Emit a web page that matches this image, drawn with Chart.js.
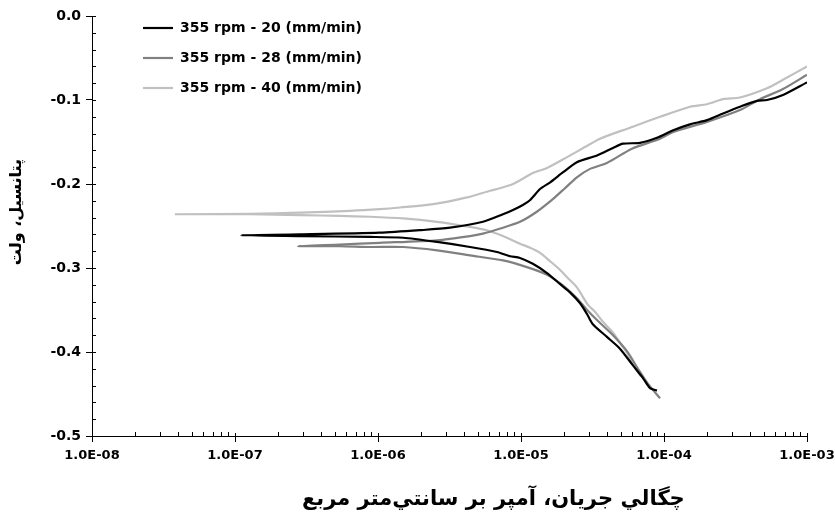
<!DOCTYPE html>
<html>
<head>
<meta charset="utf-8">
<script src="https://cdn.jsdelivr.net/npm/chart.js@4.4.1/dist/chart.umd.min.js"></script>
<style>
  html, body { margin: 0; padding: 0; background: #ffffff; }
  canvas { display: block; }
</style>
</head>
<body>
<canvas id="c" width="835" height="515"></canvas>
<script>
// ---- data ----
const seriesLabels = ['355 rpm - 20 (mm/min)', '355 rpm - 28 (mm/min)', '355 rpm - 40 (mm/min)'];
const seriesColors = ['#000000', '#808080', '#c0c0c0'];

const xTickValues = [1e-8, 1e-7, 1e-6, 1e-5, 1e-4, 1e-3];
const xTickLabels = ['1.0E-08', '1.0E-07', '1.0E-06', '1.0E-05', '1.0E-04', '1.0E-03'];
const yTickValues = [-0.5, -0.4, -0.3, -0.2, -0.1, 0];
const yTickLabels = ['-0.5', '-0.4', '-0.3', '-0.2', '-0.1', '0.0'];

// leading spaces only nudge the centred titles to where they sit in the original
const xTitle = '            چگالي جريان، آمپر بر سانتي\u200cمتر مربع';
const yTitle = '     پتانسيل، ولت';

// 20 mm/min (cathodic end -> Ecorr -> anodic end)
const current20 = [8.93e-5, 7.98e-5, 7.13e-5, 6.07e-5, 4.92e-5, 3.99e-5, 3.18e-5, 2.90e-5, 2.59e-5, 2.20e-5,
  1.87e-5, 1.52e-5, 1.21e-5, 9.84e-6, 8.38e-6, 6.79e-6, 4.40e-6, 2.59e-6, 1.50e-6, 8.79e-7, 2.85e-7, 1.10e-7,
  2.85e-7, 1.03e-6, 1.97e-6, 3.19e-6, 5.42e-6, 7.48e-6, 8.79e-6, 1.03e-5, 1.16e-5, 1.36e-5, 1.60e-5, 1.97e-5,
  2.46e-5, 3.40e-5, 4.40e-5, 5.17e-5, 6.79e-5, 8.93e-5, 1.16e-4, 1.52e-4, 2.00e-4, 2.59e-4, 3.40e-4, 4.47e-4,
  5.25e-4, 6.79e-4, 1.0e-3];
const potential20 = [-0.446, -0.443, -0.431, -0.416, -0.396, -0.382, -0.367, -0.355, -0.342, -0.329,
  -0.319, -0.306, -0.295, -0.288, -0.286, -0.281, -0.275, -0.269, -0.264, -0.263, -0.262, -0.261,
  -0.260, -0.258, -0.255, -0.252, -0.245, -0.236, -0.231, -0.225, -0.219, -0.206, -0.198, -0.186,
  -0.174, -0.166, -0.157, -0.152, -0.151, -0.145, -0.136, -0.129, -0.124, -0.116, -0.108, -0.101,
  -0.100, -0.094, -0.079];

// 28 mm/min
const current28 = [9.38e-5, 7.73e-5, 6.58e-5, 5.51e-5, 4.40e-5, 3.40e-5, 2.90e-5, 2.46e-5, 1.97e-5, 1.52e-5,
  1.10e-5, 7.48e-6, 4.40e-6, 2.59e-6, 1.50e-6, 8.79e-7, 5.42e-7, 2.76e-7,
  5.42e-7, 1.03e-6, 2.59e-6, 4.40e-6, 5.42e-6, 7.48e-6, 9.84e-6, 1.29e-5, 1.67e-5, 2.03e-5, 2.46e-5,
  3.04e-5, 3.99e-5, 5.97e-5, 9.38e-5, 1.16e-4, 2.00e-4, 3.40e-4, 4.69e-4, 6.79e-4, 1.0e-3];
const potential28 = [-0.455, -0.438, -0.420, -0.399, -0.380, -0.362, -0.350, -0.336, -0.321, -0.308,
  -0.299, -0.291, -0.285, -0.279, -0.275, -0.275, -0.274, -0.274,
  -0.272, -0.270, -0.267, -0.262, -0.259, -0.252, -0.245, -0.233, -0.218, -0.205, -0.192,
  -0.182, -0.175, -0.158, -0.146, -0.138, -0.126, -0.112, -0.099, -0.087, -0.070];

// 40 mm/min
const current40 = [6.90e-5, 6.17e-5, 5.51e-5, 4.92e-5, 4.40e-5, 3.74e-5, 3.29e-5, 2.94e-5, 2.46e-5, 2.10e-5,
  1.87e-5, 1.60e-5, 1.36e-5, 1.16e-5, 9.84e-6, 7.48e-6, 5.78e-6, 4.40e-6, 2.59e-6, 1.50e-6, 8.79e-7, 5.42e-7,
  2.85e-7, 1.27e-7, 3.80e-8,
  1.27e-7, 2.85e-7, 6.37e-7, 1.03e-6, 1.43e-6, 2.43e-6, 4.19e-6, 6.07e-6, 7.13e-6, 8.79e-6, 1.21e-5, 1.52e-5,
  2.10e-5, 2.80e-5, 3.57e-5, 5.78e-5, 9.38e-5, 1.52e-4, 2.00e-4, 2.59e-4, 3.40e-4, 5.25e-4, 6.79e-4, 1.0e-3];
const potential40 = [-0.429, -0.417, -0.401, -0.389, -0.377, -0.364, -0.352, -0.344, -0.323, -0.311,
  -0.302, -0.292, -0.282, -0.276, -0.271, -0.262, -0.255, -0.251, -0.245, -0.241, -0.239, -0.238,
  -0.237, -0.236, -0.236,
  -0.2355, -0.234, -0.232, -0.230, -0.228, -0.224, -0.216, -0.208, -0.205, -0.200, -0.187, -0.181,
  -0.168, -0.156, -0.146, -0.133, -0.120, -0.108, -0.105, -0.099, -0.097, -0.086, -0.076, -0.060];

const currents = [current20, current28, current40];
const potentials = [potential20, potential28, potential40];

// ---- chart ----
Chart.defaults.font.family = "'DejaVu Sans', 'Liberation Sans', sans-serif";
Chart.defaults.color = '#000000';

const minorTicks = {
  id: 'minorTicks',
  afterDraw(chart) {
    const ctx = chart.ctx;
    const {left, bottom} = chart.chartArea;
    const xs = chart.scales.x, ys = chart.scales.y;
    ctx.save();
    ctx.strokeStyle = '#000000';
    ctx.lineWidth = 1;
    ctx.beginPath();
    for (let d = -8; d < -3; d++) {
      for (let k = 2; k <= 9; k++) {
        const px = Math.round(xs.getPixelForValue(k * Math.pow(10, d))) + 0.5;
        ctx.moveTo(px, bottom); ctx.lineTo(px, bottom - 4);
      }
    }
    xTickValues.forEach(v => {
      const px = Math.round(xs.getPixelForValue(v)) + 0.5;
      ctx.moveTo(px, bottom); ctx.lineTo(px, bottom - 3);
    });
    for (let j = 0; j <= 25; j++) {
      const py = Math.round(ys.getPixelForValue(-0.5 + j * 0.02)) + 0.5;
      ctx.moveTo(left, py); ctx.lineTo(left + 4, py);
    }
    ctx.stroke();
    ctx.restore();
  }
};

const legendPlace = {
  id: 'legendPlace',
  afterLayout(chart) {
    const l = chart.legend;
    if (!l) return;
    l.left = 127;
    l.top = 5;
    l.bottom = chart.chartArea.bottom;
  }
};

new Chart(document.getElementById('c'), {
  type: 'scatter',
  data: {
    datasets: seriesLabels.map((label, s) => ({
      label: label,
      data: currents[s].map((x, i) => ({x: x, y: potentials[s][i]})),
      showLine: true,
      borderColor: seriesColors[s],
      backgroundColor: seriesColors[s],
      borderWidth: 2.2,
      pointRadius: 0,
      pointHoverRadius: 0,
      tension: 0.25,
      fill: false
    }))
  },
  options: {
    responsive: false,
    animation: false,
    layout: { padding: { top: 16, right: 0, left: 0, bottom: 0 } },
    plugins: {
      legend: {
        position: 'chartArea',
        align: 'start',
        labels: {
          usePointStyle: true,
          pointStyle: 'line',
          pointStyleWidth: 30,
          padding: 16,
          color: '#000000',
          font: { size: 14, weight: 'bold' }
        }
      },
      tooltip: { enabled: false }
    },
    scales: {
      x: {
        type: 'logarithmic',
        position: 'bottom',
        min: 1e-8,
        max: 1e-3,
        afterBuildTicks: (scale) => { scale.ticks = xTickValues.map(v => ({value: v})); },
        afterFit: (scale) => { scale.height = 79; scale.paddingRight = 28; scale.paddingLeft = 0; },
        ticks: {
          autoSkip: false,
          maxRotation: 0,
          padding: 6,
          color: '#000000',
          font: { size: 13, weight: 'bold' },
          callback: (v, i) => xTickLabels[i]
        },
        grid: { display: true, drawOnChartArea: false, drawTicks: true, tickLength: 6, color: '#000000' },
        border: { display: true, color: '#000000', width: 1 },
        title: {
          display: true,
          text: xTitle,
          color: '#000000',
          font: { size: 21, weight: 'bold' },
          padding: { top: 0, bottom: 3 }
        }
      },
      y: {
        type: 'linear',
        min: -0.5,
        max: 0,
        afterBuildTicks: (scale) => { scale.ticks = yTickValues.map(v => ({value: v})); },
        afterFit: (scale) => { scale.width = 92; },
        ticks: {
          padding: 5,
          color: '#000000',
          font: { size: 14, weight: 'bold' },
          callback: (v, i) => yTickLabels[i]
        },
        grid: { display: true, drawOnChartArea: false, drawTicks: true, tickLength: 6, color: '#000000' },
        border: { display: true, color: '#000000', width: 1 },
        title: {
          display: true,
          text: yTitle,
          color: '#000000',
          font: { size: 16, weight: 'bold' },
          padding: { top: 7, bottom: 0 }
        }
      }
    }
  },
  plugins: [minorTicks, legendPlace]
});
</script>
</body>
</html>
